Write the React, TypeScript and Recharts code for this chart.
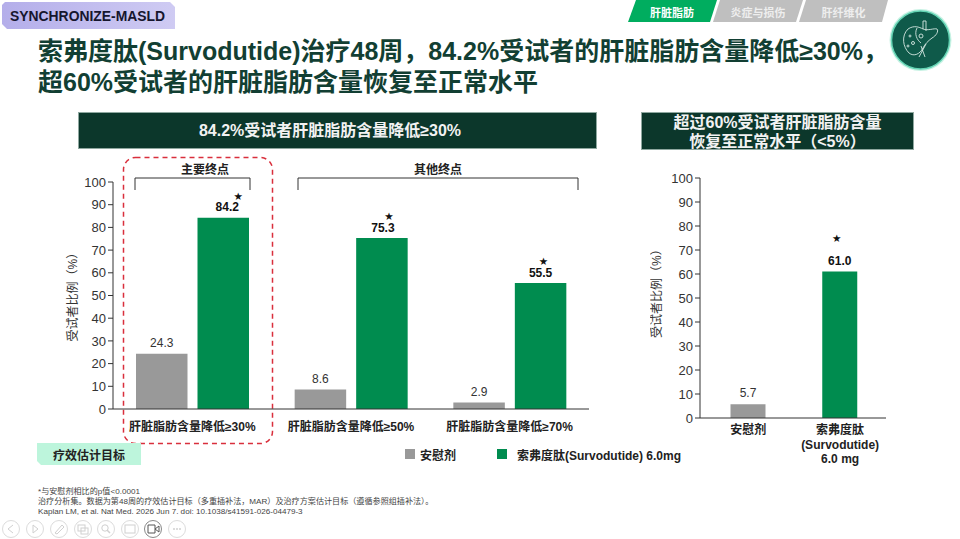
import React from 'react';
import { BarChart, Bar, XAxis, YAxis, Cell, LabelList } from 'recharts';

const FONT = '"Liberation Sans", "Noto Sans CJK SC", sans-serif';
const GRAY = '#999999';
const GREEN = '#008c4f';
const DARK = '#0c372b';

const categories = ['肝脏脂肪含量降低≥30%', '肝脏脂肪含量降低≥50%', '肝脏脂肪含量降低≥70%'];
const placeboValues = [24.3, 8.6, 2.9];
const drugValues = [84.2, 75.3, 55.5];
const yTicks = [0, 10, 20, 30, 40, 50, 60, 70, 80, 90, 100];

const normalCategories = [['安慰剂'], ['索弗度肽', '(Survodutide)', '6.0 mg']];
const normalValues = [5.7, 61.0];

const legendNames = ['安慰剂', '索弗度肽(Survodutide) 6.0mg'];
const tabs = ['肝脏脂肪', '炎症与损伤', '肝纤维化'];
const notes = [
  '*与安慰剂相比的p值<0.0001',
  '治疗分析集。数据为第48周的疗效估计目标（多重插补法，MAR）及治疗方案估计目标（遵循参照组插补法）。',
  'Kaplan LM, et al. Nat Med. 2026 Jun 7. doi: 10.1038/s41591-026-04479-3',
];

// star nudges relative to the top centre of each green bar
const leftStars = [[15, -22], [7, -22], [3, -22]];
const leftValueNudge = [4, 1, 0];
const rightStar = [-3, -34];

const Star = ({ x, y }: { x: number; y: number }) => (
  <text x={x} y={y + 4} textAnchor="middle" fontFamily='"DejaVu Sans", sans-serif' fontSize={10.5} fill="#111">★</text>
);

const valueLabel = (bold: boolean, stars?: number[][]) => (p: any) => {
  const cx = p.x + p.width / 2;
  const star = stars ? stars[p.index] : null;
  const nudge = bold ? leftValueNudge[p.index] : 0;
  return (
    <g>
      <text x={cx + nudge} y={p.y - 6.5} textAnchor="middle" fontFamily={FONT} fontSize={12} fontWeight={bold ? 700 : 400} fill={bold ? '#111' : '#333'}>
        {Number(p.value).toFixed(1)}
      </text>
      {star && <Star x={cx + star[0]} y={p.y + star[1]} />}
    </g>
  );
};

const rightLabel = (p: any) => {
  const cx = p.x + p.width / 2;
  const isDrug = p.index === 1;
  return (
    <g>
      <text x={cx} y={p.y - 7} textAnchor="middle" fontFamily={FONT} fontSize={12} fontWeight={isDrug ? 700 : 400} fill={isDrug ? '#111' : '#333'}>
        {Number(p.value).toFixed(1)}
      </text>
      {isDrug && <Star x={cx + rightStar[0]} y={p.y + rightStar[1]} />}
    </g>
  );
};

const MultiTick = (p: any) => {
  const lines: string[] = normalCategories[p.payload.index] || [];
  return (
    <g>
      {lines.map((l, i) => (
        <text key={i} x={p.x} y={p.y + 8 + i * 14.5} textAnchor="middle" fontFamily={FONT} fontSize={12} fontWeight={700} fill="#222">{l}</text>
      ))}
    </g>
  );
};

const leftData = categories.map((name, i) => ({ name, placebo: placeboValues[i], drug: drugValues[i] }));
const rightData = normalValues.map((value, i) => ({ name: normalCategories[i][0], value }));

const yLabel = { value: '受试者比例（%）', angle: -90, position: 'insideLeft', fontFamily: FONT, fontSize: 12, fill: '#333' };

const Box = ({ style, children }: { style: React.CSSProperties; children?: React.ReactNode }) => (
  <div style={{ position: 'absolute', fontFamily: FONT, ...style }}>{children}</div>
);

const Decor = () => (
  <svg width={960} height={539} style={{ position: 'absolute', left: 0, top: 0 }}>
    <defs>
      <linearGradient id="tag" x1="0" y1="0" x2="1" y2="0">
        <stop offset="0" stopColor="#b4aeea" />
        <stop offset="1" stopColor="#cfcbf3" />
      </linearGradient>
    </defs>
    <polygon points="5,2 170,2 175,7 175,29 7,29 2,24 2,5" fill="url(#tag)" />
    <polygon points="636,0 717,0 710,22 628,22" fill="#00ad5f" />
    <polygon points="720,0 803,0 796,22 713,22" fill="#bfbfbf" />
    <polygon points="806,0 888,0 882,22 799,22" fill="#bfbfbf" />
    <circle cx={920.5} cy={40} r={31} fill="#c8f2e4" />
    <circle cx={920.5} cy={40} r={29} fill="#0f5a4a" stroke="#63d3b3" strokeWidth={1.5} />
    <g fill="none" stroke="#d6e8e2" strokeWidth={0.9}>
      <path d="M908 29 C914 25 919 27 923 29 C928 31 934 28 937 29 C939 31 936 36 932 38 C928 41 925 44 923 48 C920 54 914 57 909 53 C903 47 901 36 908 29 Z" />
      <path d="M923 21 L923 29 M926 21 L926 31 M923 21 H926 M921 46 L925 57 M926 44 L919 57" />
      <path d="M917 28 C914 34 917 40 921 43" />
      <circle cx={910} cy={36} r={1} />
      <circle cx={913} cy={43} r={1.5} />
      <circle cx={921} cy={36} r={2} />
      <circle cx={908} cy={46} r={1} />
    </g>
    <rect x={123.5} y={157.5} width={149} height={286} rx={12} fill="none" stroke="#d92f3c" strokeWidth={1.5} strokeDasharray="5 4" />
    <path d="M135 190 V178 H250 V190" fill="none" stroke="#333" strokeWidth={1} />
    <path d="M298 190 V178 H578 V190" fill="none" stroke="#333" strokeWidth={1} />
    <rect x={405} y={449} width={10} height={10} fill={GRAY} />
    <rect x={497} y={449} width={10} height={10} fill={GREEN} />
    <polygon points="37,443 141,443 141,465 41,465 37,461" fill="#bdf5dc" />
    {[11, 35, 59, 83, 106, 130, 153, 177].map((cx) => (
      <circle key={cx} cx={cx} cy={529} r={8.5} fill="none" stroke={cx === 153 ? '#888' : '#dcdcdc'} strokeWidth={1} />
    ))}
    <path d="M13 525 L8 529 L13 533 M33 525 L38 529 L33 533 Z M55 533 L62 525 L64 527 L57 534 Z" fill="none" stroke="#d0d0d0" />
    <rect x={78} y={525} width={7} height={6} fill="none" stroke="#d0d0d0" />
    <rect x={81} y={528} width={7} height={6} fill="none" stroke="#d0d0d0" />
    <path d="M107 530 L110 533" stroke="#d0d0d0" strokeWidth={1.5} />
    <circle cx={105} cy={528} r={3.2} fill="none" stroke="#d0d0d0" />
    <rect x={125} y={525} width={10} height={8} fill="none" stroke="#d0d0d0" />
    <path d="M148 525 H155 V533 H148 Z M155 529 L159 526 V532 Z" fill="none" stroke="#555" />
    <circle cx={174} cy={529} r={1} fill="#d0d0d0" />
    <circle cx={177} cy={529} r={1} fill="#d0d0d0" />
    <circle cx={180} cy={529} r={1} fill="#d0d0d0" />
  </svg>
);

export default function App() {
  return (
    <div style={{ position: 'relative', width: 960, height: 539, background: '#fff', overflow: 'hidden' }}>
      <style>{'body{margin:0}'}</style>
      <Decor />
      <Box style={{ left: 10, top: 8, fontSize: 13.9, fontWeight: 700, color: '#16162e', whiteSpace: 'nowrap' }}>SYNCHRONIZE-MASLD</Box>
      {tabs.map((t, i) => (
        <Box key={t} style={{ left: [632, 718, 803.5][i], width: 80, top: 4, textAlign: 'center', fontSize: 11, fontWeight: 700, color: i === 0 ? '#fff' : '#eeeeee', whiteSpace: 'nowrap' }}>{t}</Box>
      ))}
      <Box style={{ left: 38, top: 36, fontSize: 25, lineHeight: '31px', fontWeight: 700, color: '#123f33', whiteSpace: 'nowrap' }}>
        索弗度肽(Survodutide)治疗48周，84.2%受试者的肝脏脂肪含量降低≥30%，<br />
        超60%受试者的肝脏脂肪含量恢复至正常水平
      </Box>
      <Box style={{ left: 78, top: 112, width: 519, height: 37, paddingRight: 15, boxSizing: 'border-box', border: '1px solid #8fa8a0', background: DARK, color: '#f2f2f2', fontSize: 16, fontWeight: 700, lineHeight: '36px', textAlign: 'center' }}>
        84.2%受试者肝脏脂肪含量降低≥30%
      </Box>
      <Box style={{ left: 641, top: 112, width: 273, height: 38, boxSizing: 'border-box', border: '1px solid #8fa8a0', background: DARK, color: '#f2f2f2', fontSize: 16, fontWeight: 700, lineHeight: '19px', textAlign: 'center' }}>
        超过60%受试者肝脏脂肪含量<br />恢复至正常水平（&lt;5%）
      </Box>
      <Box style={{ left: 155, width: 100, top: 160, textAlign: 'center', fontSize: 12, fontWeight: 700, color: '#222' }}>主要终点</Box>
      <Box style={{ left: 388, width: 100, top: 160, textAlign: 'center', fontSize: 12, fontWeight: 700, color: '#222' }}>其他终点</Box>

      <div style={{ position: 'absolute', left: 50, top: 170 }}>
        <BarChart width={545} height={280} data={leftData} margin={{ top: 12, right: 6, bottom: 11, left: 23 }} barSize={51.5} barGap={10}>
          <XAxis dataKey="name" height={30} tickLine={false} axisLine={{ stroke: '#333' }} interval={0}
            tick={{ fontFamily: FONT, fontSize: 12, fontWeight: 700, fill: '#222', dy: 5 }} />
          <YAxis width={40} domain={[0, 100]} ticks={yTicks} interval={0} tickSize={5} axisLine={{ stroke: '#333' }} tickLine={{ stroke: '#333' }}
            tick={{ fontFamily: FONT, fontSize: 13, fill: '#333' }} label={{ ...yLabel, dx: -5, dy: 46 }} />
          <Bar dataKey="placebo" fill={GRAY} isAnimationActive={false}>
            <LabelList dataKey="placebo" content={valueLabel(false)} />
          </Bar>
          <Bar dataKey="drug" fill={GREEN} isAnimationActive={false}>
            <LabelList dataKey="drug" content={valueLabel(true, leftStars)} />
          </Bar>
        </BarChart>
      </div>

      <div style={{ position: 'absolute', left: 650, top: 165 }}>
        <BarChart width={245} height={310} data={rightData} margin={{ top: 13, right: 9, bottom: 7, left: 20 }} barSize={35}>
          <XAxis dataKey="name" height={50} tickLine={false} axisLine={{ stroke: '#333' }} interval={0} padding={{ left: 2.5, right: 0 }} tick={<MultiTick />} />
          <YAxis width={30} domain={[0, 100]} ticks={yTicks} interval={0} tickSize={5} axisLine={{ stroke: '#333' }} tickLine={{ stroke: '#333' }}
            tick={{ fontFamily: FONT, fontSize: 13, fill: '#333' }} label={{ ...yLabel, dx: -18, dy: 40 }} />
          <Bar dataKey="value" isAnimationActive={false}>
            {rightData.map((d, i) => (
              <Cell key={d.name} fill={i === 0 ? GRAY : GREEN} />
            ))}
            <LabelList dataKey="value" content={rightLabel} />
          </Bar>
        </BarChart>
      </div>

      <Box style={{ left: 37, width: 104, top: 446, textAlign: 'center', fontSize: 12, fontWeight: 700, color: '#222' }}>疗效估计目标</Box>
      <Box style={{ left: 420, top: 446, fontSize: 12, fontWeight: 700, color: '#222', whiteSpace: 'nowrap' }}>{legendNames[0]}</Box>
      <Box style={{ left: 517, top: 446, fontSize: 12, fontWeight: 700, color: '#222', whiteSpace: 'nowrap' }}>{legendNames[1]}</Box>
      <Box style={{ left: 38, top: 487, fontSize: 8.1, lineHeight: '10.2px', color: '#444', whiteSpace: 'nowrap' }}>
        {notes.map((n) => (<div key={n}>{n}</div>))}
      </Box>
    </div>
  );
}
